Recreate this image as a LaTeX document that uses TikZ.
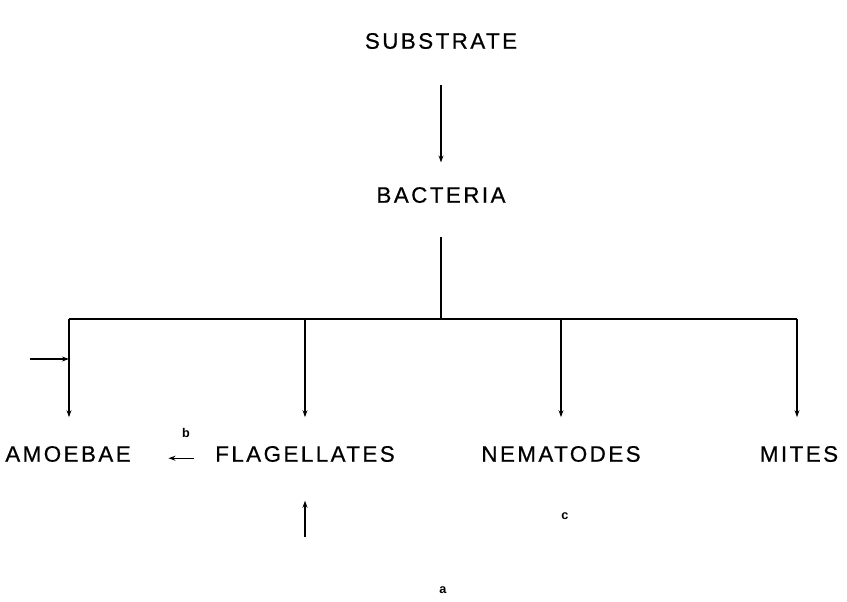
\documentclass[tikz,border=0pt]{standalone}
\usepackage{fontspec}
\setmainfont{Liberation Sans}
\newfontfamily\chainfont[LetterSpace=11, FakeBold=0.6]{Liberation Sans}
\usepackage{tikz}
\usetikzlibrary{arrows.meta, positioning}

\begin{document}
\begin{tikzpicture}[x=0.025cm, y=-0.025cm, node distance=3.85cm,
    >={Stealth[length=5pt, width=3.5pt]}, line width=1.1pt,
    every node/.style={inner sep=0pt, font=\chainfont\fontsize{15.9}{19}\selectfont},
    panel/.style={font=\fontsize{9}{11}\selectfont\bfseries}]
			\useasboundingbox (0,0) rectangle (847,601);
			\node at (441,41) (substrate) {SUBSTRATE};
			\node [below of=substrate] (bacteria) {BACTERIA};
			
			\node at (68,454) (amoebae) {AMOEBAE};
			\node at (305,454) (flagellates) {FLAGELLATES};
			\node at (561,454) (nematodes) {NEMATODES};
			\node at (799,454) (mites) {MITES};
			
			\node [panel] at (186,433) (labelb) {b};
			\node [panel] at (565,516) (labelc) {c};
			\node [panel] at (443,590) (labela) {a};
			
			\coordinate (barL) at (69,319);
			\coordinate (barR) at (797,319);
			\coordinate (inflow) at (30,359);
			\coordinate (feed) at (305,537);
			
			\draw [->, shorten <=25pt, shorten >=17pt] (substrate) -- (bacteria);
			\draw [shorten <=24pt] (bacteria) -- (bacteria |- barL);
			\draw (barL) -- (barR);
			\draw [->, shorten >=20pt] (barL) -- (amoebae.north -| barL);
			\draw [->, shorten >=20pt] (flagellates |- barL) -- (flagellates);
			\draw [->, shorten >=20pt] (nematodes |- barL) -- (nematodes);
			\draw [->, shorten >=20pt] (barR) -- (barR |- mites.north);
			\draw [->] (inflow) -- (inflow -| barL);
			\draw [->, line width=0.8pt] ([yshift=-3pt]flagellates.west) ++(-20,0) -- ++(-26,0);
			\draw [->, shorten >=27pt] (feed) -- (flagellates);
		\end{tikzpicture}
\end{document}
